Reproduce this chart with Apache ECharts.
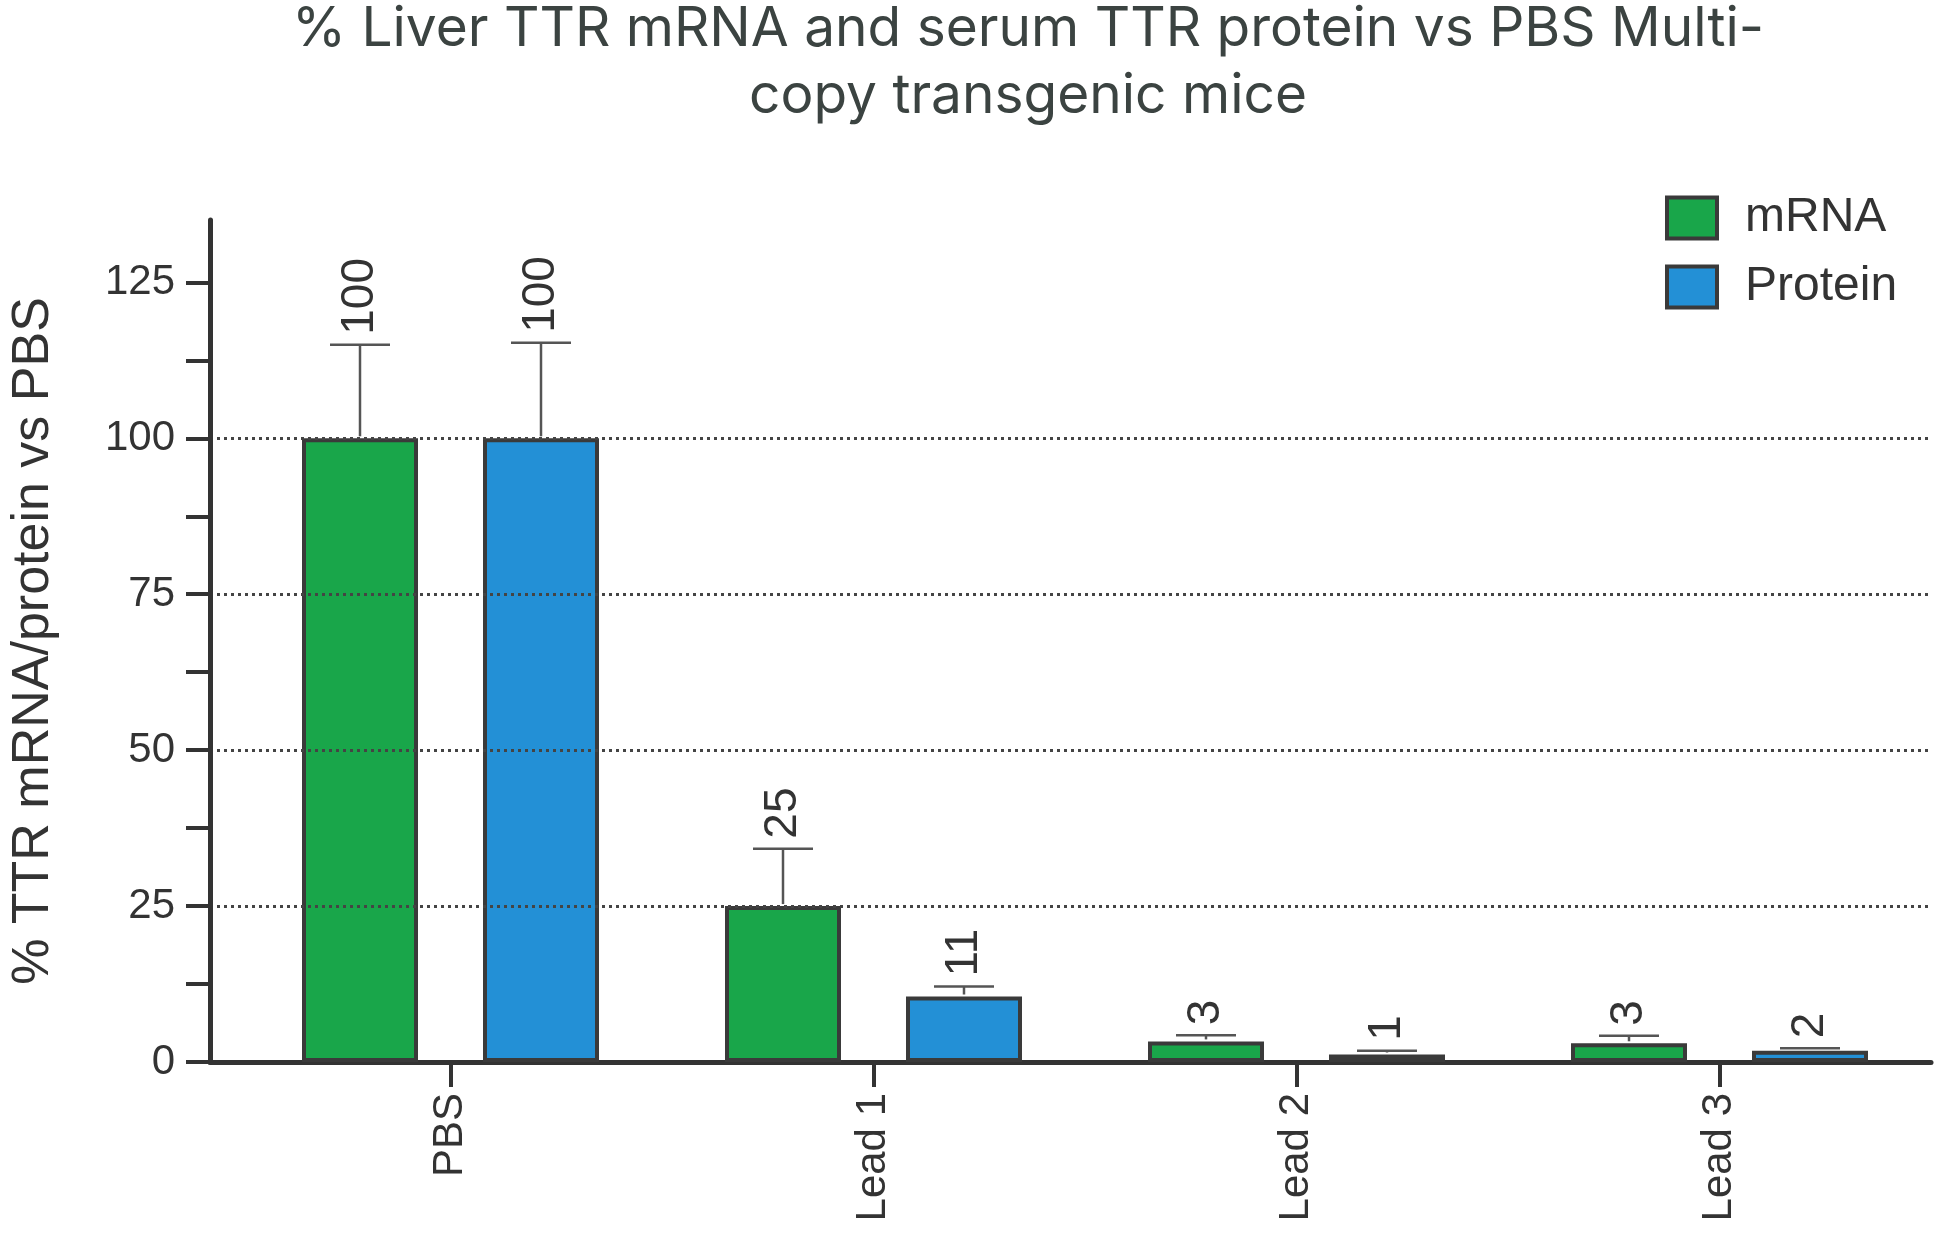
<!DOCTYPE html>
<html><head><meta charset="utf-8">
<script src="https://cdn.jsdelivr.net/npm/echarts@6/dist/echarts.min.js"></script>
<style>html,body{margin:0;padding:0;background:#fff}#c{width:1948px;height:1235px}</style>
</head><body><div id="c"></div>
<script>
// ---- data ----
const categories = ['PBS', 'Lead 1', 'Lead 2', 'Lead 3'];
const seriesNames = ['mRNA', 'Protein'];
const mrnaValues = [100, 25, 3.3, 3.0];
const proteinValues = [100, 10.5, 1.2, 1.8];
const mrnaErrorTop = [115, 34.2, 4.3, 4.2];
const proteinErrorTop = [115.3, 12.1, 1.8, 2.2];
const mrnaLabels = ['100', '25', '3', '3'];
const proteinLabels = ['100', '11', '1', '2'];
const yLabelValues = [0, 25, 50, 75, 100, 125];
const yTickValues = [0, 12.5, 25, 37.5, 50, 62.5, 75, 87.5, 100, 112.5, 125];
const gridLineValues = [25, 50, 75, 100];
const titleText = '% Liver TTR mRNA and serum TTR protein vs PBS Multi-\ncopy transgenic mice';
const yName = '% TTR mRNA/protein vs PBS';

// ---- style ----
const GREEN = '#19a64a', BLUE = '#2390d6', EDGE = '#3a3a3a', INK = '#333333';
const BAR_W = 116, GAP_PX = 65;
const OFFSET = (BAR_W + GAP_PX) / 2;
const CAP = 60;
const FONT = 'Liberation Sans, Arial, Helvetica, sans-serif';
const GRID = { top: 220, bottom: 173, right: 17 };
const Y_MAX = 135;

function errorSeries(name, values, tops, labels, sign) {
  return {
    type: 'custom', name: name, xAxisIndex: 0, yAxisIndex: 0, z: 5, silent: true,
    data: categories.map((c, i) => [i, values[i], tops[i]]),
    renderItem(params, api) {
      const i = api.value(0);
      const base = api.coord([i, api.value(1)]);
      const top = api.coord([i, api.value(2)]);
      const x = base[0] + sign * OFFSET;
      return {
        type: 'group', children: [
          { type: 'line', shape: { x1: x, y1: base[1] - 2, x2: x, y2: top[1] }, style: { stroke: '#555', lineWidth: 2.5 } },
          { type: 'line', shape: { x1: x - CAP / 2, y1: top[1], x2: x + CAP / 2, y2: top[1] }, style: { stroke: '#555', lineWidth: 2.5 } },
          { type: 'text', x: x, y: top[1] - 10, rotation: Math.PI / 2,
            style: { text: labels[i], fill: INK, fontSize: 46, fontFamily: FONT, align: 'left', verticalAlign: 'middle' } }
        ]
      };
    }
  };
}

// colours for split lines: visible only at gridLineValues (ticks 0,25,...,125,135)
const splitColors = [0, 25, 50, 75, 100, 125, Y_MAX].map(v => gridLineValues.indexOf(v) >= 0 ? '#444' : 'rgba(0,0,0,0)');

const chart = echarts.init(document.getElementById('c'), null, { renderer: 'canvas' });
chart.setOption({
  backgroundColor: '#fff',
  animation: false,
  title: {
    text: titleText, left: 1023, top: -9, textAlign: 'center',
    textStyle: { fontFamily: 'Inter, Lato, sans-serif', fontWeight: 'normal', fontSize: 55, lineHeight: 67, color: '#3b4341' }
  },
  legend: {
    data: seriesNames, orient: 'vertical', left: 1660, top: 189,
    itemWidth: 50, itemHeight: 41, itemGap: 21, icon: 'rect', selectedMode: false,
    itemStyle: { borderColor: EDGE, borderWidth: 4 },
    textStyle: { fontSize: 48, lineHeight: 41, fontFamily: FONT, color: INK, padding: [0, 0, 0, 23] }
  },
  grid: [
    { left: 239, right: GRID.right, top: GRID.top, bottom: GRID.bottom },
    { left: 208, right: GRID.right, top: GRID.top, bottom: GRID.bottom }
  ],
  xAxis: [
    { type: 'category', gridIndex: 0, data: categories,
      axisLine: { show: false },
      axisTick: { show: true, alignWithLabel: true, length: 25, lineStyle: { color: INK, width: 4 } },
      axisLabel: { rotate: 90, fontSize: 42, color: INK, fontFamily: FONT, margin: 31 } },
    { type: 'value', gridIndex: 1, min: 0, max: 1,
      axisLine: { show: true, lineStyle: { color: INK, width: 5 } },
      axisTick: { show: false }, axisLabel: { show: false }, splitLine: { show: false } }
  ],
  yAxis: [
    { type: 'value', gridIndex: 0, min: 0, max: Y_MAX, interval: 25, show: false, splitLine: { show: false } },
    { type: 'value', gridIndex: 1, position: 'left', min: 0, max: Y_MAX, interval: 25, z: 4,
      axisLine: { show: true, lineStyle: { color: INK, width: 5 } },
      axisTick: { show: false },
      axisLabel: { customValues: yLabelValues, fontSize: 42, color: INK, fontFamily: FONT, margin: 35 },
      splitLine: { show: true, lineStyle: { type: [3, 4], width: 3, color: splitColors } },
      name: yName, nameLocation: 'middle', nameRotate: 90, nameGap: 150,
      nameTextStyle: { fontSize: 52, color: INK, fontFamily: FONT } },
    { type: 'value', gridIndex: 1, position: 'left', offset: 0, min: 0, max: Y_MAX, interval: 25,
      axisLine: { show: false, onZero: false }, axisLabel: { show: false }, splitLine: { show: false },
      axisTick: { show: true, customValues: yTickValues, length: 24, lineStyle: { color: INK, width: 4 } } }
  ],
  series: [
    { type: 'bar', name: seriesNames[0], data: mrnaValues, barWidth: BAR_W, barGap: (GAP_PX / BAR_W * 100) + '%',
      itemStyle: { color: GREEN, borderColor: EDGE, borderWidth: 4 }, z: 3 },
    { type: 'bar', name: seriesNames[1], data: proteinValues, barWidth: BAR_W,
      itemStyle: { color: BLUE, borderColor: EDGE, borderWidth: 4 }, z: 3 },
    errorSeries('mRNA err', mrnaValues, mrnaErrorTop, mrnaLabels, -1),
    errorSeries('Protein err', proteinValues, proteinErrorTop, proteinLabels, 1)
  ]
});
</script>
</body></html>
